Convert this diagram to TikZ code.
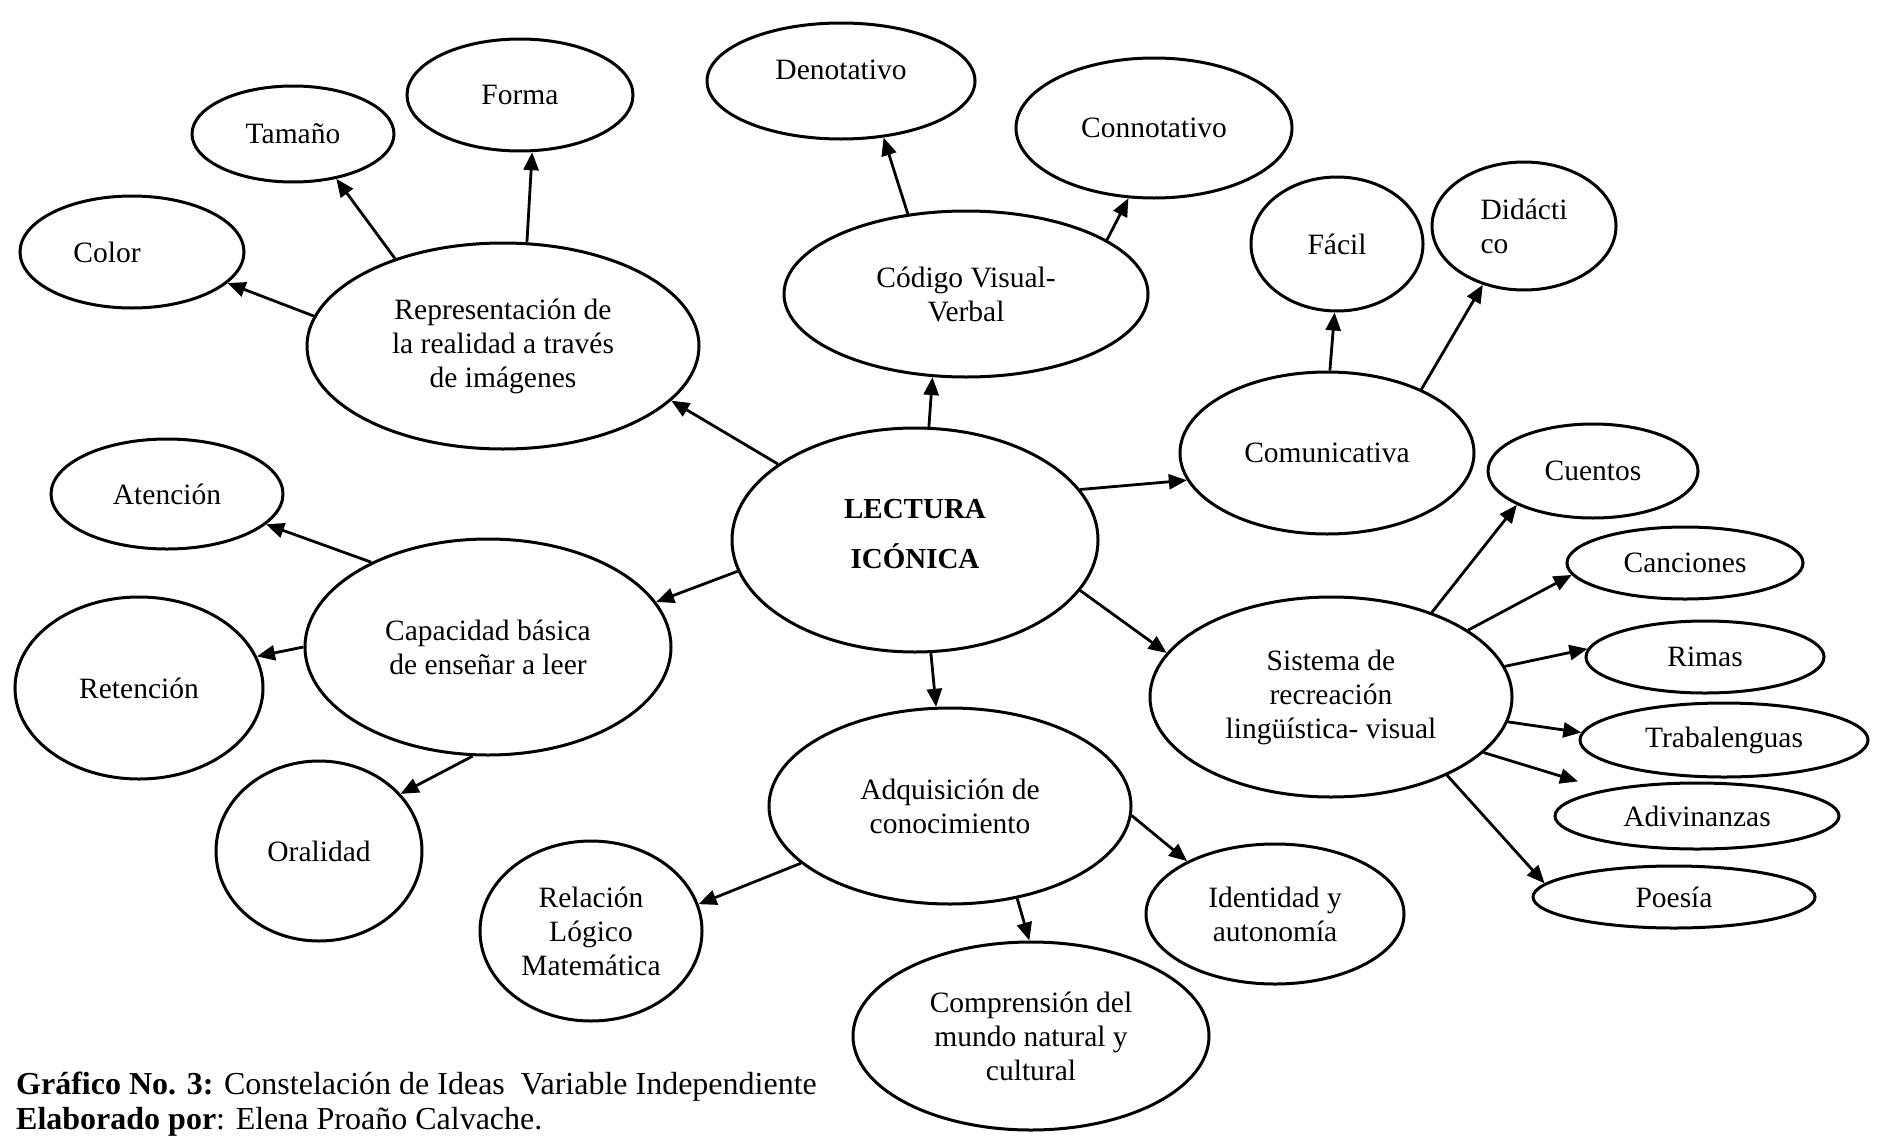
\documentclass[tikz,border=0pt]{standalone}
\usepackage{fontspec}
\setmainfont{Liberation Serif}
\usepackage{tikz}
\usetikzlibrary{shapes.geometric, arrows.meta, positioning}
\tikzset{
    idea/.style={ellipse, draw, line width=3pt, inner sep=0pt, align=center, font=\fontsize{29.5}{34}\selectfont},
    arrow/.style={-{Triangle[length=18pt,width=15pt]}, line width=2.8pt},
    caption/.style={align=left, anchor=west, inner sep=0pt, font=\fontsize{32}{35}\selectfont},
}

\begin{document}
\begin{tikzpicture}[x=1pt, y=-1pt]
        \useasboundingbox (0,0) rectangle (1879,1135);
        % Nodes
        \node [idea, minimum width=366pt, minimum height=224pt, label={[yshift=6pt, font=\bfseries\fontsize{29}{50}\selectfont, align=center]center:LECTURA\\ICÓNICA}] (lectura) at (915,540) {};
        \node [idea, minimum width=392pt, minimum height=206pt] (rep) at (503,346) {Representación de\\la realidad a través\\de imágenes};
        \node [idea, minimum width=224pt, minimum height=112pt, label={[xshift=-25pt, font=\fontsize{29.5}{34}\selectfont]center:Color}] (color) at (132,252) {};
        \node [idea, minimum width=202pt, minimum height=96pt] (tamano) at (293,134) {Tamaño};
        \node [idea, minimum width=226pt, minimum height=112pt] (forma) at (520,95) {Forma};
        \node [idea, minimum width=364pt, minimum height=166pt] (codigo) at (966,294) {Código Visual-\\Verbal};
        \node [idea, minimum width=268pt, minimum height=116pt, label={[yshift=11pt, font=\fontsize{29.5}{34}\selectfont]center:Denotativo}] (denot) at (841,81) {};
        \node [idea, minimum width=276pt, minimum height=140pt] (connot) at (1154,128) {Connotativo};
        \node [idea, minimum width=294pt, minimum height=162pt] (comun) at (1327,453) {Comunicativa};
        \node [idea, minimum width=172pt, minimum height=134pt] (facil) at (1337,244) {Fácil};
        \node [idea, minimum width=184pt, minimum height=128pt, align=left] (didac) at (1524,226) {Didácti\\co};
        \node [idea, minimum width=362pt, minimum height=200pt] (sistema) at (1331,697) {Sistema de\\recreación\\lingüística- visual};
        \node [idea, minimum width=210pt, minimum height=94pt] (cuentos) at (1593,471) {Cuentos};
        \node [idea, minimum width=236pt, minimum height=72pt] (canc) at (1685,563) {Canciones};
        \node [idea, minimum width=238pt, minimum height=72pt] (rimas) at (1705,657) {Rimas};
        \node [idea, minimum width=288pt, minimum height=74pt] (trab) at (1724,740) {Trabalenguas};
        \node [idea, minimum width=284pt, minimum height=66pt] (adiv) at (1697,816) {Adivinanzas};
        \node [idea, minimum width=282pt, minimum height=62pt] (poesia) at (1674,897) {Poesía};
        \node [idea, minimum width=366pt, minimum height=216pt] (capac) at (488,647) {Capacidad básica\\de enseñar a leer};
        \node [idea, minimum width=232pt, minimum height=110pt] (atencion) at (167,494) {Atención};
        \node [idea, minimum width=248pt, minimum height=182pt] (reten) at (139,688) {Retención};
        \node [idea, minimum width=206pt, minimum height=180pt] (oral) at (319,851) {Oralidad};
        \node [idea, minimum width=362pt, minimum height=196pt] (adq) at (950,806) {Adquisición de\\conocimiento};
        \node [idea, minimum width=222pt, minimum height=180pt] (relac) at (591,931) {Relación\\Lógico\\Matemática};
        \node [idea, minimum width=258pt, minimum height=140pt] (ident) at (1275,914) {Identidad y\\autonomía};
        \node [idea, minimum width=356pt, minimum height=188pt] (compr) at (1031,1036) {Comprensión del\\mundo natural y\\cultural};
        \node [caption] (pie) at (16,1104) {\textbf{Gráfico No. 3:} Constelación de Ideas\ \ Variable Independiente\\\textbf{Elaborado por}: Elena Proaño Calvache.};

        % Edges
        \draw [arrow] (lectura.151) -- (rep.-18);
        \draw [arrow] (rep.171) -- (color.-18);
        \draw [arrow] (rep.141) -- (tamano.-46);
        \draw [arrow] (rep.77) -- (forma.-78);
        \draw [arrow] (lectura.83) -- (codigo.-112);
        \draw [arrow] (codigo.126) -- (denot.-53);
        \draw [arrow] (codigo.21) -- (connot.-110);
        \draw [arrow] (lectura.17) -- (comun.191);
        \draw [arrow] (comun.88) -- (facil.-92);
        \draw [arrow] (comun.34) -- (didac.-125);
        \draw [arrow] (lectura.-17) -- (sistema.165);
        \draw [arrow] (sistema.40) -- (cuentos.-156);
        \draw [arrow] (sistema.26) -- (canc.-174);
        \draw [arrow] (sistema.10) -- (rimas.176);
        \draw [arrow] (sistema.-8) -- (trab.177);
        \draw [arrow, shorten >=28pt] (sistema.-20) -- (adiv.164);
        \draw [arrow] (sistema.-34) -- (poesia.174);
        \draw [arrow] (lectura.190) -- (capac.15);
        \draw [arrow] (capac.144) -- (atencion.-17);
        \draw [arrow] (capac.180) -- (reten.15);
        \draw [arrow] (capac.-98) -- (oral.35);
        \draw [arrow] (lectura.-82) -- (adq.98);
        \draw [arrow] (adq.-159) -- (relac.14);
        \draw [arrow] (adq.-3) -- (ident.149);
        \draw [arrow] (adq.-54) -- (compr.91);
\end{tikzpicture}
\end{document}
